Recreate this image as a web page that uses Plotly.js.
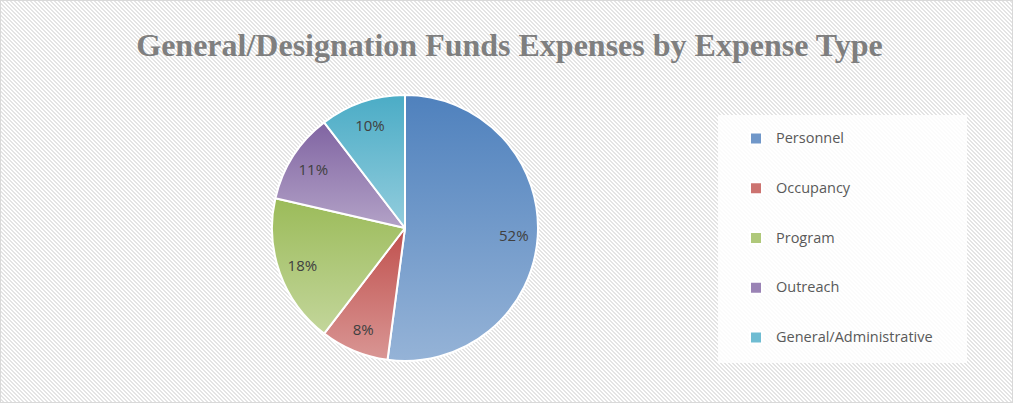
<!DOCTYPE html>
<html>
<head>
<meta charset="utf-8">
<script src="https://cdn.plot.ly/plotly-3.0.1.min.js"></script>
<style>
  html, body { margin: 0; padding: 0; background: #ffffff; }
  #wrap { position: relative; width: 1019px; height: 405px; overflow: hidden; }
  #frame {
    position: absolute; left: 0; top: 0; width: 1011px; height: 401px;
    border: 1px solid #d9d9d9;
    background-color: #ffffff;
    background-image: linear-gradient(45deg, #e4e4e4 25%, transparent 25%, transparent 50%, #e4e4e4 50%, #e4e4e4 75%, transparent 75%, transparent);
    background-size: 4px 4px;
  }
  #chart { position: absolute; left: 0; top: 0; width: 1019px; height: 405px; }
</style>
</head>
<body>
<div id="wrap">
  <div id="frame"></div>
  <div id="chart"></div>
</div>
<script>
// ---- data ----
var categories = ['Personnel', 'Occupancy', 'Program', 'Outreach', 'General/Administrative'];
var values = [52.1, 8.3, 18.2, 11.0, 10.4];
var chartTitle = 'General/Designation Funds Expenses by Expense Type';

// ---- styles ----
var baseColors = ['#7097c9', '#cc7370', '#afc87a', '#9a83b5', '#6fbcd2'];
var gradTop    = ['#4f81bd', '#c0504d', '#9bbb59', '#8064a2', '#4bacc6'];
var gradBottom = ['#95b3d7', '#d99694', '#c3d69b', '#b3a2c7', '#93cddd'];

var legendLabels = categories.map(function (c) {
  return '\u00a0<br><span style="font-size:14.5px">' + c + '</span><br>\u00a0';
});

var pieDomain = { x: [272 / 1019, 538 / 1019], y: [44 / 405, 310 / 405] };

// main pie: the coloured slices and the legend
var slices = {
  type: 'pie',
  labels: legendLabels,
  values: values,
  sort: false,
  direction: 'clockwise',
  rotation: 0,
  marker: { colors: baseColors, line: { color: '#ffffff', width: 2 } },
  textinfo: 'none',
  hoverinfo: 'none',
  domain: pieDomain
};

// transparent ring over the pie that carries the percentage labels near the rim
var labelRing = {
  type: 'pie',
  labels: categories,
  values: values,
  sort: false,
  direction: 'clockwise',
  rotation: 0,
  hole: 0.64,
  showlegend: false,
  marker: { colors: categories.map(function () { return 'rgba(0,0,0,0)'; }), line: { width: 0 } },
  texttemplate: '%{percent:.0%}',
  textposition: 'inside',
  insidetextorientation: 'horizontal',
  textfont: { family: 'Open Sans, sans-serif', size: 15, color: '#404040' },
  hoverinfo: 'none',
  domain: pieDomain
};

var layout = {
  width: 1019,
  height: 405,
  margin: { l: 0, r: 0, t: 0, b: 0 },
  paper_bgcolor: 'rgba(0,0,0,0)',
  plot_bgcolor: 'rgba(0,0,0,0)',
  title: {
    text: '<b>' + chartTitle + '</b>',
    font: { family: 'Liberation Serif, serif', size: 32, color: '#7f7f7f' },
    x: 0.5, xanchor: 'center',
    y: 1 - 45 / 405, yanchor: 'middle', yref: 'paper'
  },
  showlegend: true,
  legend: {
    x: 736 / 1019, xanchor: 'left',
    y: 1 - 108.5 / 405, yanchor: 'top',
    bgcolor: 'rgba(0,0,0,0)',
    borderwidth: 0,
    font: { family: 'Open Sans, sans-serif', size: 12, color: '#595959' },
    tracegroupgap: 0
  },
  shapes: [{
    type: 'rect', xref: 'paper', yref: 'paper', layer: 'below',
    x0: 718 / 1019, x1: 967 / 1019, y0: 1 - 363 / 405, y1: 1 - 115 / 405,
    fillcolor: 'rgba(255,255,255,0.85)', line: { width: 0 }
  }]
};

Plotly.newPlot('chart', [slices, labelRing], layout, { staticPlot: true }).then(function (gd) {
  var svg = gd.querySelector('svg.main-svg');
  var ns = 'http://www.w3.org/2000/svg';
  var defs = document.createElementNS(ns, 'defs');
  gradTop.forEach(function (c, i) {
    var lg = document.createElementNS(ns, 'linearGradient');
    lg.setAttribute('id', 'sliceGrad' + i);
    lg.setAttribute('x1', '0'); lg.setAttribute('y1', '0');
    lg.setAttribute('x2', '0'); lg.setAttribute('y2', '1');
    var s1 = document.createElementNS(ns, 'stop');
    s1.setAttribute('offset', '0'); s1.setAttribute('stop-color', c);
    var s2 = document.createElementNS(ns, 'stop');
    s2.setAttribute('offset', '1'); s2.setAttribute('stop-color', gradBottom[i]);
    lg.appendChild(s1); lg.appendChild(s2);
    defs.appendChild(lg);
  });
  svg.insertBefore(defs, svg.firstChild);
  var traces = gd.querySelectorAll('g.pielayer g.trace');
  if (traces.length) {
    traces[0].querySelectorAll('g.slice path.surface').forEach(function (p, i) {
      p.style.fill = 'url(#sliceGrad' + i + ')';
    });
  }
});
</script>
</body>
</html>
